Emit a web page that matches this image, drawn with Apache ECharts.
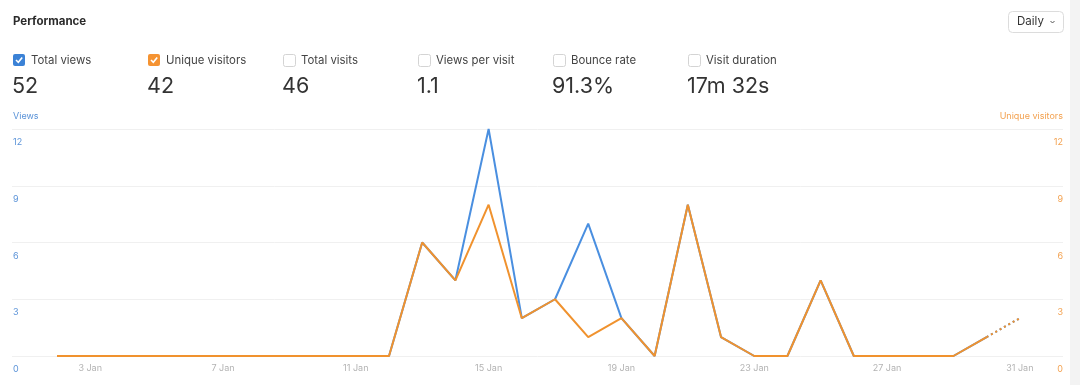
<!DOCTYPE html>
<html>
<head>
<meta charset="utf-8">
<script src="https://cdn.jsdelivr.net/npm/echarts@6/dist/echarts.min.js"></script>
<style>
html,body{margin:0;padding:0;background:#fff;}
#c{width:1080px;height:385px;}
</style>
</head>
<body>
<div id="c"></div>
<script>
// ---- data ----
var days = [2,3,4,5,6,7,8,9,10,11,12,13,14,15,16,17,18,19,20,21,22,23,24,25,26,27,28,29,30,31];
var totalViews =     [0,0,0,0,0,0,0,0,0,0,0,6,4,12,2,3,7,2,0,8,1,0,0,4,0,0,0,0,1,2];
var uniqueVisitors = [0,0,0,0,0,0,0,0,0,0,0,6,4,8,2,3,1,2,0,8,1,0,0,4,0,0,0,0,1,2];
var xTickDays = [3,7,11,15,19,23,27,31];
var yTicks = [0,3,6,9,12];
var monthLabel = 'Jan';
var metricNames = ['Total views','Unique visitors','Total visits','Views per visit','Bounce rate','Visit duration'];
var metricValues = ['52','42','46','1.1','91.3%','17m 32s'];
var metricChecked = [1,2,0,0,0,0]; // 1 = blue, 2 = orange

var BLUE = '#4a8fe0', ORANGE = '#f0922e';
var FONT = 'Inter, "Noto Sans", sans-serif';

function solidPart(arr){ return days.map(function(d,i){ return [d, i < days.length-1 ? arr[i] : null]; }); }
function dottedPart(arr){ return days.map(function(d,i){ return [d, i >= days.length-2 ? arr[i] : null]; }); }

var chart = echarts.init(document.getElementById('c'), null, {renderer:'canvas'});

var graphics = [];
graphics.push({type:'rect', shape:{x:1070,y:0,width:10,height:385}, style:{fill:'#f3f3f3'}, silent:true});
graphics.push({type:'text', x:13, y:21.5, style:{text:'Performance', font:'bold 11.5px '+FONT, fill:'#2b2b2b', textVerticalAlign:'middle'}});
// Daily button
graphics.push({type:'rect', shape:{x:1008.5,y:11.5,width:55,height:21,r:4}, style:{fill:'#fff', stroke:'#dcdcdc', lineWidth:1}});
graphics.push({type:'text', x:1017, y:22, style:{text:'Daily', font:'11.5px '+FONT, fill:'#333', textVerticalAlign:'middle'}});
graphics.push({type:'polyline', shape:{points:[[1050.5,21],[1052.5,23],[1054.5,21]]}, style:{stroke:'#555', lineWidth:1, fill:null}});

for (var k=0;k<metricNames.length;k++){
  var x0 = 13 + k*135;
  var chk = metricChecked[k];
  if (chk){
    var col = chk===1 ? '#3b82d6' : '#f59332';
    graphics.push({type:'rect', shape:{x:x0,y:54,width:12,height:12,r:2}, style:{fill:col}});
    graphics.push({type:'polyline', shape:{points:[[x0+3,60],[x0+5.3,62.3],[x0+9.2,57.5]]}, style:{stroke:'#fff', lineWidth:1.6, fill:null}});
  } else {
    graphics.push({type:'rect', shape:{x:x0+0.5,y:54.5,width:12,height:12,r:2}, style:{fill:'#fff', stroke:'#d4d4d4', lineWidth:1}});
  }
  graphics.push({type:'text', x:x0+18, y:60.5, style:{text:metricNames[k], font:'11.4px '+FONT, fill:'#444', textVerticalAlign:'middle'}});
  graphics.push({type:'text', x:x0-1, y:87, style:{text:metricValues[k], font:'21.5px '+FONT, fill:'#333', textVerticalAlign:'middle'}});
}
graphics.push({type:'text', x:13, y:116, style:{text:'Views', font:'9px '+FONT, fill:'#5b93d8', textVerticalAlign:'middle'}});
graphics.push({type:'text', x:1063, y:116, style:{text:'Unique visitors', font:'9px '+FONT, fill:'#f3a14f', textAlign:'right', textVerticalAlign:'middle'}});

var option = {
  animation:false,
  backgroundColor:'#fff',
  graphic: graphics,
  grid:{left:12, right:17, top:129, bottom:29, containLabel:false},
  xAxis:{
    type:'value', min:0.645, max:32.3,
    axisLine:{show:false}, axisTick:{show:false}, splitLine:{show:false},
    axisLabel:{customValues:xTickDays, formatter:function(v){return v+' '+monthLabel;}, color:'#b3b3b3', fontSize:9, fontFamily:FONT, margin:8}
  },
  yAxis:[
    {type:'value', min:0, max:12, interval:3, position:'left',
     axisLine:{show:false}, axisTick:{show:false},
     splitLine:{lineStyle:{color:'#f0f0f0', width:1}},
     axisLabel:{inside:true, margin:1, color:'#5b93d8', fontSize:9, fontFamily:FONT, verticalAlign:'top', padding:[9,0,0,0]}},
    {type:'value', min:0, max:12, interval:3, position:'right',
     axisLine:{show:false}, axisTick:{show:false}, splitLine:{show:false},
     axisLabel:{inside:true, margin:0, color:'#f3a14f', fontSize:9, fontFamily:FONT, verticalAlign:'top', padding:[9,0,0,0]}}
  ],
  series:[
    {type:'line', yAxisIndex:0, data:solidPart(totalViews), showSymbol:false, lineStyle:{color:BLUE, width:2}, z:2},
    {type:'line', yAxisIndex:0, data:dottedPart(totalViews), showSymbol:false, lineStyle:{color:BLUE, width:2, type:[2,3]}, z:2},
    {type:'line', yAxisIndex:1, data:solidPart(uniqueVisitors), showSymbol:false, lineStyle:{color:ORANGE, width:2}, z:3},
    {type:'line', yAxisIndex:1, data:dottedPart(uniqueVisitors), showSymbol:false, lineStyle:{color:ORANGE, width:2, type:[2,3]}, z:3}
  ]
};
chart.setOption(option);
</script>
</body>
</html>
